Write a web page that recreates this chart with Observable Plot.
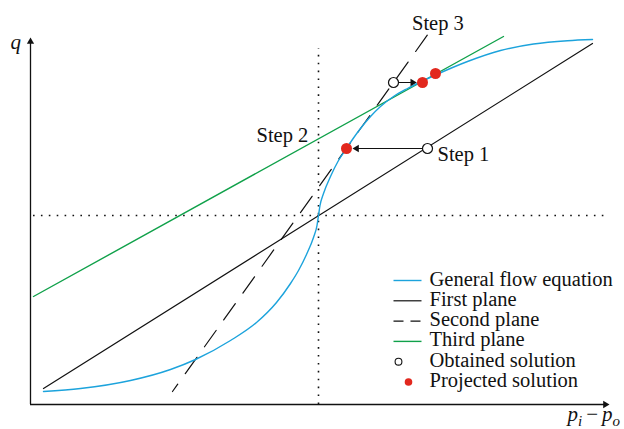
<!DOCTYPE html>
<html><head><meta charset="utf-8">
<script src="https://cdn.jsdelivr.net/npm/d3@7"></script>
<script src="https://cdn.jsdelivr.net/npm/@observablehq/plot@0.6"></script>
<style>
html,body{margin:0;padding:0;background:#fff}
#chart{width:624px;height:429px}
</style>
</head><body><div id="chart"></div>
<script>
// ---- data ----
const flowX = [-2.75,-2.38,-1.88,-1.48,-1.23,-0.88,-0.62,-0.42,-0.28,-0.20,-0.12,-0.05,-0.015,0,0.015,0.05,0.12,0.20,0.28,0.35,0.42,0.52,0.62,0.75,0.89,1.04,1.17,1.49,1.82,2.15,2.49,2.74];
const flowQ = [-1.76,-1.73,-1.65,-1.54,-1.44,-1.25,-1.07,-0.87,-0.68,-0.55,-0.39,-0.22,-0.10,0,0.10,0.22,0.39,0.55,0.67,0.775,0.87,0.99,1.09,1.19,1.27,1.345,1.405,1.54,1.65,1.715,1.748,1.76];
const firstPlaneX = [-2.75, 2.74];
const firstPlaneQ = [-1.73, 1.72];
const secondPlaneX = [-1.46, 1.10];
const secondPlaneQ = [-1.76, 1.82];
const thirdPlaneX = [-2.85, 1.85];
const thirdPlaneQ = [-0.81, 1.79];
const obtainedX = [1.09, 0.75];
const obtainedQ = [0.67, 1.33];
const projectedX = [0.28, 1.04, 1.17];
const projectedQ = [0.67, 1.33, 1.42];
// step arrows: from obtained solution to projected solution
const arrowFrom = [0, 1];   // index into obtained
const arrowTo = [0, 1];     // index into projected
const stepLabels = ["Step 1", "Step 2", "Step 3"];
const stepLabelX = [1.19, -0.62, 0.935];
const stepLabelQ = [0.55, 0.74, 1.86];
const legendLabels = ["General flow equation","First plane","Second plane","Third plane","Obtained solution","Projected solution"];
const legendKinds = ["flow","first","second","third","obtained","projected"];
const yLabel = "q";
const xLabel = "XLABEL_PI_PO";

// ---- styles ----
const CYAN = "#1ca3dc", GREEN = "#10a14a", RED = "#e2281e", INK = "#111";
const FONT = "Liberation Serif";
const xDom = [-2.88, 2.91], yDom = [-1.89, 1.78];

const zip = (xs, ys) => xs.map((x, i) => ({x, y: ys[i]}));
const flow = zip(flowX, flowQ);
const first = zip(firstPlaneX, firstPlaneQ);
const second = zip(secondPlaneX, secondPlaneQ);
const third = zip(thirdPlaneX, thirdPlaneQ);
const obtained = zip(obtainedX, obtainedQ);
const projected = zip(projectedX, projectedQ);
const arrows = arrowFrom.map((a, i) => ({x1: obtained[a].x, y1: obtained[a].y, x2: projected[arrowTo[i]].x, y2: projected[arrowTo[i]].y}));
const steps = stepLabels.map((t, i) => ({t, x: stepLabelX[i], y: stepLabelQ[i]}));

// legend layout
const legX1 = 0.75, legX2 = 1.03, legTextX = 1.11, legTop = -0.65, legStep = -0.203;
const legend = legendLabels.map((t, i) => ({t, kind: legendKinds[i], y: legTop + i * legStep}));
const legLine = k => legend.filter(d => d.kind === k);

const arrowHeads = arrows.map(a => {
  const left = a.x2 < a.x1;
  return Plot.dot([a], {x: "x2", y: "y2", symbol: "triangle", r: 2.7, fill: INK, stroke: null,
    rotate: left ? -90 : 90, dx: left ? 10.2 : -9.9});
});

const chart = Plot.plot({
  width: 624, height: 429,
  marginLeft: 30, marginRight: 15, marginTop: 37, marginBottom: 25,
  x: {domain: xDom, axis: null},
  y: {domain: yDom, axis: null},
  style: {fontFamily: FONT, background: "white", overflow: "visible", color: INK},
  marks: [
    // dotted reference lines
    Plot.ruleX([0], {y1: yDom[0], y2: 1.67, stroke: INK, strokeWidth: 1.6, strokeDasharray: "1.6,6.3"}),
    Plot.ruleY([0], {x1: -2.85, x2: 2.88, stroke: INK, strokeWidth: 1.6, strokeDasharray: "1.6,6.3"}),
    // axes with arrows
    Plot.ruleX([xDom[0]], {y1: yDom[0], y2: yDom[1] - 0.04, stroke: INK, strokeWidth: 1.3}),
    Plot.ruleY([yDom[0]], {x1: xDom[0], x2: xDom[1] - 0.04, stroke: INK, strokeWidth: 1.3}),
    Plot.dot([{x: xDom[0], y: yDom[1]}], {x: "x", y: "y", symbol: "triangle", r: 2.7, fill: INK, stroke: null, dy: 4.2}),
    Plot.dot([{x: xDom[1], y: yDom[0]}], {x: "x", y: "y", symbol: "triangle", r: 2.7, fill: INK, stroke: null, rotate: 90, dx: -4.2}),
    // planes and curve
    Plot.line(first, {x: "x", y: "y", stroke: INK, strokeWidth: 1.2}),
    Plot.line(second, {x: "x", y: "y", stroke: INK, strokeWidth: 1.2, strokeDasharray: "20,13", strokeDashoffset: 11}),
    Plot.line(third, {x: "x", y: "y", stroke: GREEN, strokeWidth: 1.4}),
    Plot.line(flow, {x: "x", y: "y", stroke: CYAN, strokeWidth: 1.4, curve: "monotone-x"}),
    // step arrows
    Plot.arrow(arrows, {x1: "x1", y1: "y1", x2: "x2", y2: "y2", headLength: 0, insetStart: 5, insetEnd: 12, stroke: INK, strokeWidth: 1.2}),
    ...arrowHeads,
    // solutions
    Plot.dot(obtained, {x: "x", y: "y", r: 5, fill: "white", stroke: INK, strokeWidth: 1.2}),
    Plot.dot(projected, {x: "x", y: "y", r: 5.5, fill: RED, stroke: null}),
    // step labels
    Plot.text(steps, {x: "x", y: "y", text: "t", textAnchor: "start", lineAnchor: "bottom", fontSize: 20.5, fill: INK}),
    // legend
    Plot.link(legLine("flow"), {x1: legX1, x2: legX2, y1: "y", y2: "y", stroke: CYAN, strokeWidth: 1.4}),
    Plot.link(legLine("first"), {x1: legX1, x2: legX2, y1: "y", y2: "y", stroke: INK, strokeWidth: 1.2}),
    Plot.link(legLine("second"), {x1: legX1, x2: legX2, y1: "y", y2: "y", stroke: INK, strokeWidth: 1.2, strokeDasharray: "10,7"}),
    Plot.link(legLine("third"), {x1: legX1, x2: legX2, y1: "y", y2: "y", stroke: GREEN, strokeWidth: 1.4}),
    Plot.dot(legLine("obtained"), {x: 0.80, y: "y", r: 3.4, fill: "white", stroke: INK, strokeWidth: 1.1}),
    Plot.dot(legLine("projected"), {x: 0.90, y: "y", r: 3.8, fill: RED, stroke: null}),
    Plot.text(legend, {x: legTextX, y: "y", text: "t", textAnchor: "start", lineAnchor: "bottom", dy: 5, fontSize: 20.5, fill: INK}),
    // axis labels
    Plot.text([yLabel], {frameAnchor: "top-left", text: d => d, dx: -20, dy: 11, textAnchor: "start", lineAnchor: "bottom", fontSize: 21, fontStyle: "italic", fill: INK}),
    Plot.text([xLabel], {frameAnchor: "bottom-right", text: d => d, dx: -42, dy: 16, textAnchor: "start", lineAnchor: "bottom", fontSize: 21, fontStyle: "italic", fill: INK})
  ]
});

// build the subscripted x label
d3.select(chart).selectAll("text").filter(function() { return this.textContent === xLabel; }).each(function() {
  const t = d3.select(this);
  t.text(null);
  t.append("tspan").text("p");
  t.append("tspan").attr("dy", 5).attr("font-size", 15).text("i");
  t.append("tspan").attr("dy", -5).attr("dx", 4).attr("font-style", "normal").text("−");
  t.append("tspan").attr("dx", 4).text("p");
  t.append("tspan").attr("dy", 5).attr("font-size", 15).text("o");
});

document.getElementById("chart").appendChild(chart);
</script>
</body></html>
